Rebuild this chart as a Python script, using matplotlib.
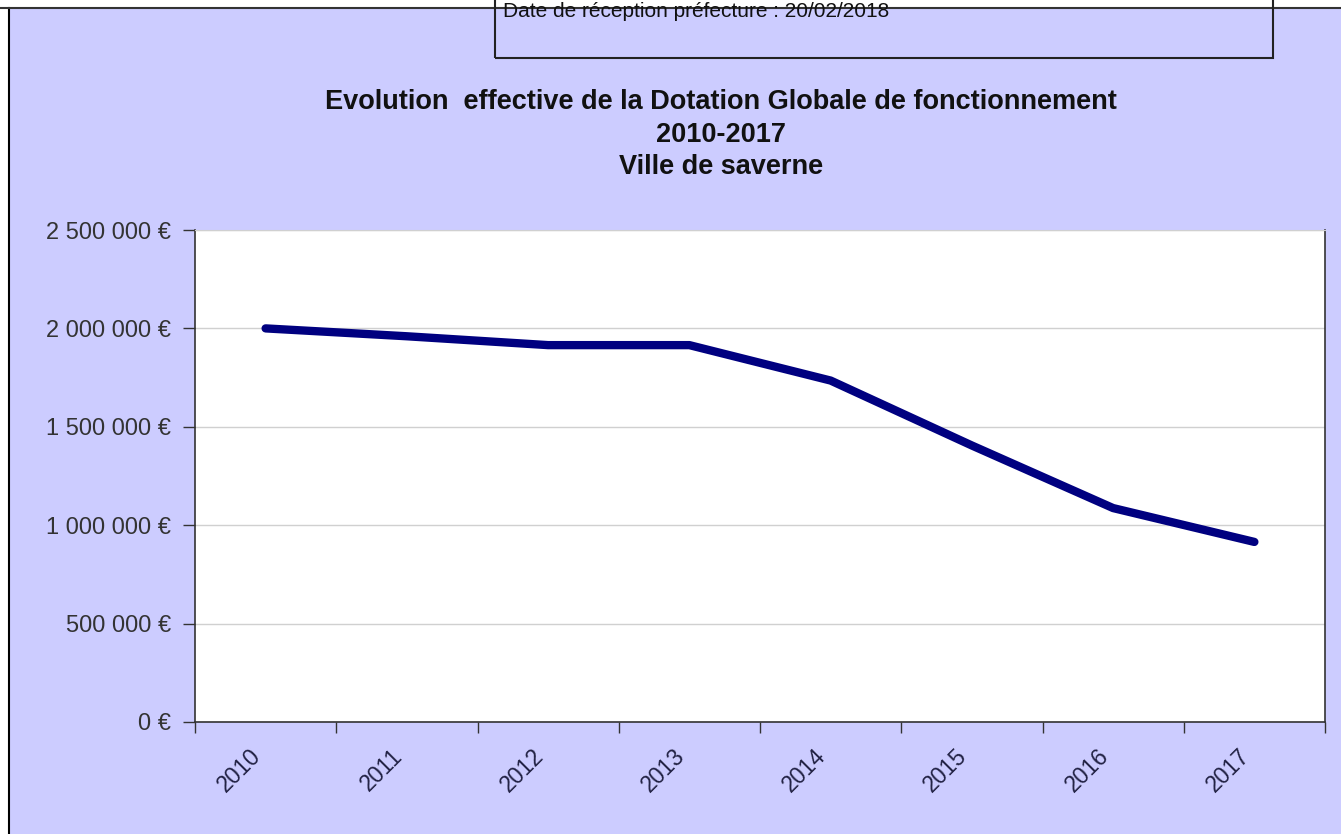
import matplotlib
matplotlib.use("Agg")
import matplotlib.pyplot as plt
from matplotlib.patches import Rectangle
from matplotlib.lines import Line2D
from matplotlib.ticker import FuncFormatter, FixedLocator

plt.rcParams['font.family'] = ['Liberation Sans', 'DejaVu Sans']

# Data
years = ['2010', '2011', '2012', '2013', '2014', '2015', '2016', '2017']
dgf = [2000000, 1960000, 1915000, 1915000, 1735000, 1405000, 1087000, 915000]
y_ticks = [0, 500000, 1000000, 1500000, 2000000, 2500000]

title_lines = ["Evolution  effective de la Dotation Globale de fonctionnement",
               "2010-2017", "Ville de saverne"]
stamp = "Date de réception préfecture : 20/02/2018"

W, H = 1341, 834
fig = plt.figure(figsize=(W / 100, H / 100), dpi=100, facecolor='white')

# lavender chart background with frame on left/top
bg = Rectangle((9 / W, 0), 1 - 9 / W, 1 - 8 / H, transform=fig.transFigure,
               facecolor='#CCCCFF', edgecolor='none', zorder=-5)
fig.patches.append(bg)
fig.add_artist(Line2D([9 / W, 9 / W], [0, 1 - 8 / H], transform=fig.transFigure,
                      color='black', lw=1.5, zorder=-4))
fig.add_artist(Line2D([0, 1], [1 - 8 / H, 1 - 8 / H], transform=fig.transFigure,
                      color='#333333', lw=1.5, zorder=-4))

# stamp box on top
box = Rectangle((495 / W, 1 - 58 / H), (1273 - 495) / W, 70 / H,
                transform=fig.transFigure, facecolor='none', edgecolor='#222222',
                lw=1.5, zorder=-3)
fig.patches.append(box)
fig.text(503 / W, 1 - 17 / H, stamp, fontsize=15, color='#111111',
         ha='left', va='baseline')

ax = fig.add_axes([195 / W, 1 - 722 / H, (1325 - 195) / W, (722 - 230) / H])
ax.set_zorder(2)
ax.set_facecolor('white')

x = list(range(len(years)))
ax.plot(x, dgf, color='#000080', lw=6, solid_capstyle='round',
        solid_joinstyle='round', zorder=3)

ax.set_xlim(-0.5, len(years) - 0.5)
ax.set_ylim(0, 2500000)

ax.yaxis.set_major_locator(FixedLocator(y_ticks))
ax.yaxis.set_major_formatter(FuncFormatter(
    lambda v, p: '{:,.0f} €'.format(v).replace(',', ' ')))
ax.grid(axis='y', color='#d0d0d0', lw=1)
ax.tick_params(axis='y', direction='out', length=9, width=1, color='#333333',
               labelsize=17, labelcolor='#333333', pad=8)

ax.xaxis.set_major_locator(FixedLocator([i - 0.5 for i in range(len(years) + 1)]))
ax.xaxis.set_minor_locator(FixedLocator(x))
ax.set_xticklabels([], minor=False)
ax.set_xticklabels(years, minor=True, rotation=45, ha='right', va='top',
                   rotation_mode='default')
ax.tick_params(axis='x', which='major', direction='out', length=8, width=1,
               color='#333333')
ax.tick_params(axis='x', which='minor', length=0, labelsize=16.5,
               labelcolor='#222244', pad=16)

for s in ['left', 'bottom', 'right']:
    ax.spines[s].set_color('#333333')
    ax.spines[s].set_linewidth(1.2)
ax.spines['top'].set_color('#d0d0d0')

for txt, yc in zip(title_lines, [102, 135, 167]):
    fig.text(721 / W, 1 - yc / H, txt, ha='center', va='center', fontsize=19.5,
             fontweight='bold', color='#111111')

fig.savefig('out.png', dpi=100, facecolor=fig.get_facecolor())
